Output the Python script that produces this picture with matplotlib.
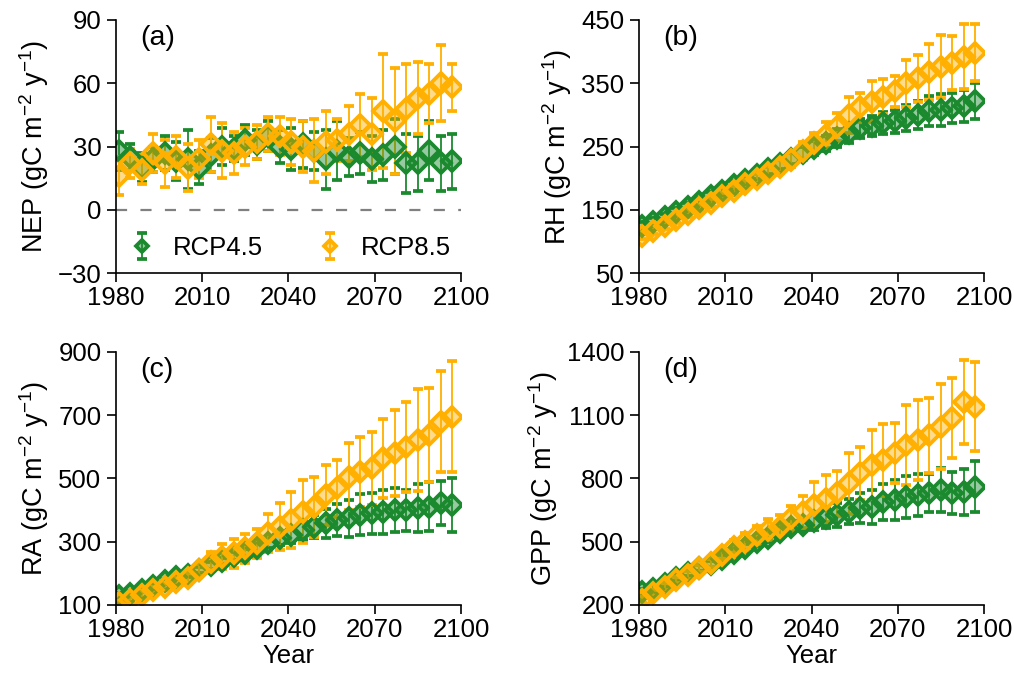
import numpy as np
import matplotlib
matplotlib.use("Agg")
import matplotlib.pyplot as plt

plt.rcParams["font.family"] = ["Liberation Sans", "DejaVu Sans"]
plt.rcParams["mathtext.fontset"] = "custom"
plt.rcParams["mathtext.rm"] = "Liberation Sans"
plt.rcParams["mathtext.it"] = "Liberation Sans:italic"
plt.rcParams["mathtext.bf"] = "Liberation Sans:bold"

years = [1981, 1985, 1989, 1993, 1997, 2001, 2005, 2009, 2013, 2017,
         2021, 2025, 2029, 2033, 2037, 2041, 2045, 2049, 2053, 2057,
         2061, 2065, 2069, 2073, 2077, 2081, 2085, 2089, 2093, 2097]

nep_45 = [28, 25, 20, 24, 27, 23, 24, 20, 26, 30, 29, 33, 31, 35, 30,
          29, 31, 28, 24, 28, 25, 27, 24, 26, 30, 22, 22, 28, 22, 23]
nep_45_err = [9, 6, 7, 6, 8, 9, 14, 8, 8, 9, 6, 7, 7, 7, 8,
              10, 11, 9, 14, 14, 9, 10, 11, 12, 13, 14, 13, 14, 13, 13]
nep_85 = [16, 22, 19, 27, 22, 25, 20, 24, 31, 28, 27, 30, 32, 36, 35,
          32, 30, 28, 32, 33, 36, 40, 36, 47, 42, 48, 53, 55, 60, 58]
nep_85_err = [9, 7, 7, 9, 11, 10, 11, 9, 13, 13, 10, 9, 8, 8, 9,
              11, 12, 15, 15, 10, 13, 15, 17, 27, 25, 21, 17, 14, 18, 11]

rh_45 = [125, 131, 139, 147, 155, 163, 172, 180, 189, 197, 205, 214, 222, 231, 240,
         247, 255, 263, 271, 279, 283, 287, 290, 295, 300, 306, 308, 311, 314, 322]
rh_45_err = [6, 6, 5, 5, 5, 5, 6, 6, 6, 7, 7, 8, 8, 9, 10,
             11, 12, 14, 15, 15, 16, 18, 18, 20, 22, 24, 25, 24, 26, 28]
rh_85 = [108, 116, 125, 134, 143, 152, 161, 171, 180, 190, 199, 208, 218, 229, 243,
         256, 268, 281, 300, 312, 321, 329, 337, 350, 358, 368, 376, 382, 392, 398]
rh_85_err = [5, 5, 5, 5, 5, 6, 6, 6, 7, 7, 8, 9, 10, 11, 14,
             15, 20, 22, 28, 23, 33, 27, 25, 37, 37, 44, 50, 43, 51, 45]

ra_45 = [130, 135, 148, 160, 175, 190, 195, 210, 225, 240, 255, 265, 280, 295, 311,
         321, 337, 348, 358, 369, 374, 385, 390, 395, 400, 400, 406, 411, 422, 416]
ra_45_err = [8, 8, 8, 8, 8, 8, 8, 10, 10, 10, 12, 12, 14, 16, 20,
             25, 30, 35, 45, 50, 58, 65, 65, 70, 70, 65, 75, 78, 70, 85]
ra_85 = [105, 116, 132, 147, 158, 174, 184, 211, 237, 253, 263, 279, 295, 327, 348,
         369, 395, 411, 448, 469, 506, 521, 532, 564, 580, 600, 622, 637, 680, 695]
ra_85_err = [8, 8, 10, 10, 12, 15, 18, 20, 30, 40, 45, 45, 45, 60, 75,
             89, 100, 95, 95, 90, 105, 110, 115, 125, 135, 143, 161, 148, 160, 175]

gpp_45 = [262, 278, 300, 330, 352, 375, 395, 420, 448, 470, 498, 520, 545, 571, 579,
          596, 611, 627, 643, 659, 666, 690, 698, 714, 722, 730, 745, 730, 737, 761]
gpp_45_err = [15, 15, 15, 15, 15, 15, 15, 18, 18, 20, 20, 22, 25, 28, 30,
              40, 45, 55, 60, 70, 80, 85, 95, 100, 100, 90, 105, 100, 110, 120]
gpp_85 = [224, 256, 287, 319, 342, 374, 398, 437, 476, 500, 532, 556, 571, 611, 642,
          674, 705, 730, 777, 825, 864, 888, 920, 959, 983, 1006, 1046, 1085, 1164, 1141]
gpp_85_err = [15, 15, 15, 15, 18, 18, 20, 20, 30, 40, 45, 50, 55, 60, 76,
              111, 110, 106, 145, 126, 166, 170, 142, 190, 190, 178, 200, 190, 200, 210]

labels = ["RCP4.5", "RCP8.5"]
green = "#1b8a2f"
orange = "#ffb000"

panels = [
    ("(a)", "NEP", nep_45, nep_45_err, nep_85, nep_85_err, (-30, 90), [-30, 0, 30, 60, 90]),
    ("(b)", "RH", rh_45, rh_45_err, rh_85, rh_85_err, (50, 450), [50, 150, 250, 350, 450]),
    ("(c)", "RA", ra_45, ra_45_err, ra_85, ra_85_err, (100, 900), [100, 300, 500, 700, 900]),
    ("(d)", "GPP", gpp_45, gpp_45_err, gpp_85, gpp_85_err, (200, 1400), [200, 500, 800, 1100, 1400]),
]

positions = [
    [0.1144, 0.5985, 0.3402, 0.3721],
    [0.6302, 0.5985, 0.3402, 0.3721],
    [0.1144, 0.1103, 0.3402, 0.3721],
    [0.6302, 0.1103, 0.3402, 0.3721],
]

fs = 18.5
fig = plt.figure(figsize=(10.14, 6.8), dpi=100)

for i, (tag, name, v45, e45, v85, e85, ylim, yticks) in enumerate(panels):
    ax = fig.add_axes(positions[i])

    if name == "NEP":
        ax.axhline(0, color="#808080", lw=1.6, ls=(0, (5, 6)), zorder=1)

    handles = []
    for vals, errs, col, lab in [(v45, e45, green, labels[0]), (v85, e85, orange, labels[1])]:
        h = ax.errorbar(years, vals, yerr=errs, fmt="D", ms=10, mew=2.7,
                        mec=col, mfc=matplotlib.colors.to_rgba(col, 0.45),
                        ecolor=col, elinewidth=1.3, capsize=3.8, capthick=1.6,
                        label=lab)
        handles.append(h)

    ax.set_xlim(1980, 2100)
    ax.set_xticks([1980, 2010, 2040, 2070, 2100])
    ax.set_ylim(*ylim)
    ax.set_yticks(yticks)

    for s in ["top", "right"]:
        ax.spines[s].set_visible(False)
    for s in ["left", "bottom"]:
        ax.spines[s].set_linewidth(1.2)
    ax.tick_params(axis="both", labelsize=fs, length=6.5, width=1.2, direction="out")
    ax.tick_params(axis="y", pad=4)
    ax.tick_params(axis="x", pad=3)

    ax.set_ylabel(name + r" (gC m$^{-2}$ y$^{-1}$)", fontsize=19.5, labelpad=5)
    if i >= 2:
        ax.set_xlabel("Year", fontsize=fs, labelpad=1)

    ax.text(0.07, 0.93, tag, transform=ax.transAxes, fontsize=20.5, va="center", ha="left")

    if i == 0:
        ax.legend(handles=handles, loc="center", bbox_to_anchor=(0.5, 0.10), ncol=2,
                  frameon=False, fontsize=fs, markerscale=0.65, handletextpad=0.6,
                  columnspacing=2.0, handlelength=1.2)

fig.savefig("out.png", dpi=100)
